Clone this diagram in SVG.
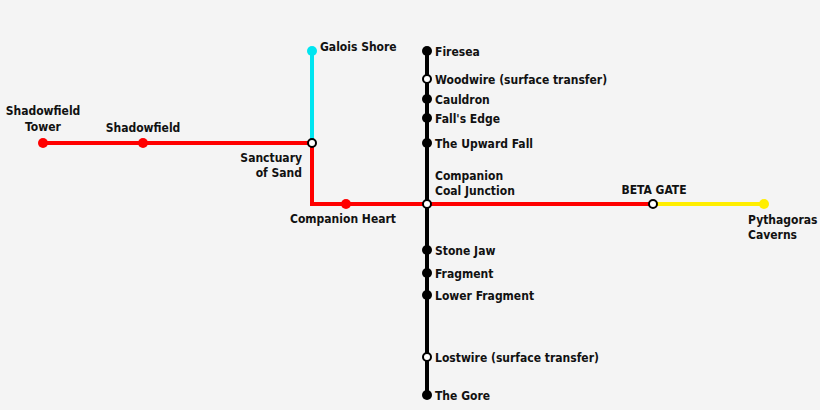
<svg xmlns="http://www.w3.org/2000/svg" width="820" height="410" viewBox="0 0 820 410">
<style>
text{font-family:"DejaVu Sans Condensed","Liberation Sans Narrow",sans-serif;font-weight:bold;font-size:12px;fill:#111}
.l{fill:none;stroke-width:4}
.d{stroke:none}
.o{fill:#fff;stroke:#000;stroke-width:2}
.m{text-anchor:middle}.e{text-anchor:end}
</style>
<rect width="820" height="410" fill="#f4f4f4"/>
<g id="connectors">
<path class="l" stroke="#00e5f0" d="M312 51V143"/>
<path class="l" stroke="#ff0000" d="M43 143H312V204H653"/>
<path class="l" stroke="#ffee00" d="M653 204H764"/>
<path class="l" stroke="#000" d="M427 51V395"/>
</g>
<g id="galois"><circle cx="312" cy="51" r="5" fill="#00e5f0"/><text x="320" y="51">Galois Shore</text></g>
<g id="shadowfield-tower"><circle cx="43" cy="143" r="5" fill="#f00"/><text class="m" x="43" y="115">Shadowfield</text><text class="m" x="43" y="131">Tower</text></g>
<g id="shadowfield"><circle cx="143" cy="143" r="5" fill="#f00"/><text class="m" x="143" y="132">Shadowfield</text></g>
<g id="sanctuary"><circle class="o" cx="312" cy="143" r="4"/><text class="e" x="302" y="162">Sanctuary</text><text class="e" x="302" y="177">of Sand</text></g>
<g id="companion-heart"><circle cx="346" cy="204" r="5" fill="#f00"/><text class="m" x="343" y="223">Companion Heart</text></g>
<g id="firesea"><circle cx="427" cy="51" r="5"/><text x="435" y="56">Firesea</text></g>
<g id="woodwire"><circle class="o" cx="427" cy="79" r="4"/><text x="435" y="84">Woodwire (surface transfer)</text></g>
<g id="cauldron"><circle cx="427" cy="99" r="5"/><text x="435" y="104">Cauldron</text></g>
<g id="falls-edge"><circle cx="427" cy="118" r="5"/><text x="435" y="123">Fall's Edge</text></g>
<g id="upward-fall"><circle cx="427" cy="143" r="5"/><text x="435" y="148">The Upward Fall</text></g>
<g id="junction"><circle class="o" cx="427" cy="204" r="4"/><text x="435" y="180">Companion</text><text x="435" y="195">Coal Junction</text></g>
<g id="stone-jaw"><circle cx="427" cy="250" r="5"/><text x="435" y="255">Stone Jaw</text></g>
<g id="fragment"><circle cx="427" cy="273" r="5"/><text x="435" y="278">Fragment</text></g>
<g id="lower-fragment"><circle cx="427" cy="295" r="5"/><text x="435" y="300">Lower Fragment</text></g>
<g id="lostwire"><circle class="o" cx="427" cy="357" r="4"/><text x="435" y="362">Lostwire (surface transfer)</text></g>
<g id="gore"><circle cx="427" cy="395" r="5"/><text x="435" y="400">The Gore</text></g>
<g id="beta"><circle class="o" cx="653" cy="204" r="4"/><text class="m" x="654" y="194">BETA GATE</text></g>
<g id="pythagoras"><circle cx="764" cy="204" r="5" fill="#ffee00"/><text x="748" y="224">Pythagoras</text><text x="748" y="239">Caverns</text></g>
</svg>
